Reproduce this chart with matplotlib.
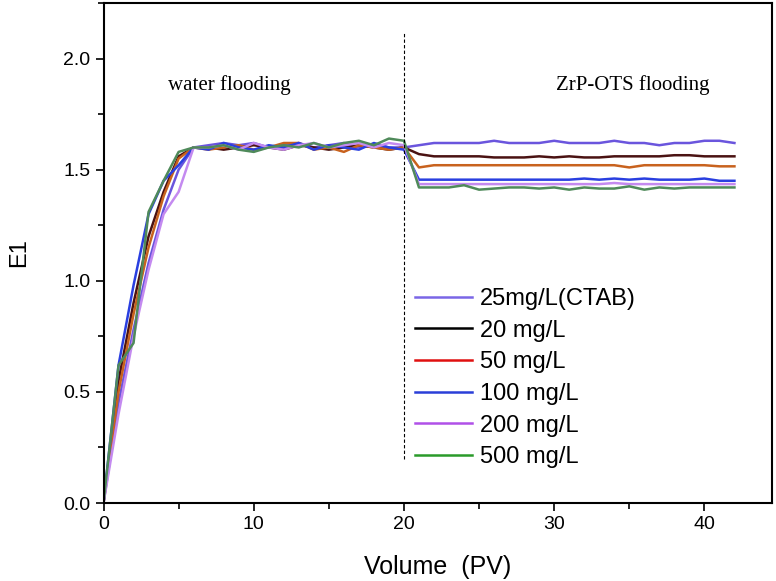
import numpy as np
import matplotlib.pyplot as plt
from matplotlib.lines import Line2D
from matplotlib.ticker import MultipleLocator

plt.rcParams['font.family'] = ['Liberation Sans', 'DejaVu Sans']

# Volume (PV), one point per PV
volume = list(range(0, 43))

labels = ["25mg/L(CTAB)", "20 mg/L", "50 mg/L", "100 mg/L", "200 mg/L", "500 mg/L"]

# E1 values, 0..42 PV
e1_ctab = [0, 0.45, 0.78, 1.08, 1.32, 1.50, 1.60,
           1.61, 1.62, 1.61, 1.62, 1.60, 1.61, 1.62, 1.60, 1.61, 1.62, 1.60, 1.61, 1.60, 1.60,
           1.61, 1.62, 1.62, 1.62, 1.62, 1.63, 1.62, 1.62, 1.62, 1.63, 1.62, 1.62, 1.62, 1.63,
           1.62, 1.62, 1.61, 1.62, 1.62, 1.63, 1.63, 1.62]
e1_20 = [0, 0.55, 0.90, 1.20, 1.40, 1.56, 1.60,
         1.60, 1.59, 1.60, 1.61, 1.60, 1.59, 1.61, 1.60, 1.59, 1.60, 1.61, 1.60, 1.59, 1.60,
         1.57, 1.56, 1.56, 1.56, 1.56, 1.555, 1.555, 1.555, 1.56, 1.555, 1.56, 1.555, 1.555, 1.56,
         1.56, 1.56, 1.56, 1.565, 1.565, 1.56, 1.56, 1.56]
e1_50 = [0, 0.50, 0.85, 1.15, 1.38, 1.55, 1.60,
         1.59, 1.60, 1.61, 1.59, 1.60, 1.62, 1.62, 1.59, 1.60, 1.58, 1.61, 1.60, 1.59, 1.60,
         1.51, 1.52, 1.52, 1.52, 1.52, 1.52, 1.52, 1.52, 1.52, 1.52, 1.52, 1.52, 1.52, 1.52,
         1.51, 1.52, 1.52, 1.52, 1.52, 1.52, 1.515, 1.515]
e1_100 = [0, 0.62, 0.98, 1.30, 1.45, 1.52, 1.60,
          1.59, 1.62, 1.60, 1.59, 1.61, 1.60, 1.62, 1.59, 1.61, 1.60, 1.59, 1.62, 1.60, 1.59,
          1.455, 1.455, 1.455, 1.455, 1.455, 1.455, 1.455, 1.455, 1.455, 1.455, 1.455, 1.46, 1.455, 1.46,
          1.455, 1.46, 1.455, 1.455, 1.455, 1.46, 1.45, 1.45]
e1_200 = [0, 0.40, 0.75, 1.05, 1.30, 1.40, 1.60,
          1.60, 1.61, 1.59, 1.62, 1.60, 1.59, 1.61, 1.62, 1.60, 1.61, 1.62, 1.60, 1.62, 1.61,
          1.435, 1.435, 1.435, 1.435, 1.435, 1.435, 1.435, 1.435, 1.435, 1.435, 1.435, 1.435, 1.435, 1.44,
          1.435, 1.435, 1.435, 1.435, 1.435, 1.435, 1.435, 1.435]
e1_500 = [0, 0.62, 0.72, 1.31, 1.45, 1.58, 1.60,
          1.60, 1.61, 1.59, 1.58, 1.60, 1.61, 1.60, 1.62, 1.60, 1.62, 1.63, 1.61, 1.64, 1.63,
          1.42, 1.42, 1.42, 1.43, 1.41, 1.415, 1.42, 1.42, 1.415, 1.42, 1.41, 1.42, 1.415, 1.415,
          1.425, 1.41, 1.42, 1.415, 1.42, 1.42, 1.42, 1.42]

series = [e1_ctab, e1_20, e1_50, e1_100, e1_200, e1_500]
plot_colors = ["#6a55dd", "#4a1212", "#c8621e", "#2a3fe0", "#c48af0", "#4f8a5a"]
legend_colors = ["#7a66e6", "#000000", "#e01010", "#2a3fd8", "#b050e8", "#2a9a2a"]

fig = plt.figure(figsize=(7.76, 5.81), dpi=100)
ax = fig.add_axes([103.5 / 776, 78 / 581, 668.5 / 776, 500 / 581])

for y, c in zip(series, plot_colors):
    ax.plot(volume, y, color=c, lw=1.8)

ax.plot([20, 20], [0.2, 2.12], ls=(0, (3, 2)), color="black", lw=0.8)

ax.text(8.4, 1.88, "water flooding", family="Liberation Serif", fontsize=15,
        ha="center", va="center")
ax.text(35.2, 1.88, "ZrP-OTS flooding", family="Liberation Serif", fontsize=15,
        ha="center", va="center")

handles = [Line2D([], [], color=c, lw=1.8) for c in legend_colors]
ax.legend(handles, labels, loc="upper left", bbox_to_anchor=(0.466, 0.43),
          frameon=False, fontsize=17, handlelength=2.4, labelspacing=0.41,
          handletextpad=0.34, borderpad=0, borderaxespad=0)

ax.set_xlim(0, 44.5)
ax.set_ylim(0, 2.25)
ax.xaxis.set_major_locator(MultipleLocator(10))
ax.xaxis.set_minor_locator(MultipleLocator(5))
ax.yaxis.set_major_locator(MultipleLocator(0.5))
ax.yaxis.set_minor_locator(MultipleLocator(0.25))
ax.tick_params(which="both", direction="out", width=1.2, labelsize=14)
ax.tick_params(which="major", length=6)
ax.tick_params(which="minor", length=4)
for s in ax.spines.values():
    s.set_linewidth(1.5)

ax.set_xlabel("Volume  (PV)", fontsize=18, labelpad=16)
ax.set_ylabel("E1", fontsize=17, labelpad=24)

fig.savefig("out.png", dpi=100)
